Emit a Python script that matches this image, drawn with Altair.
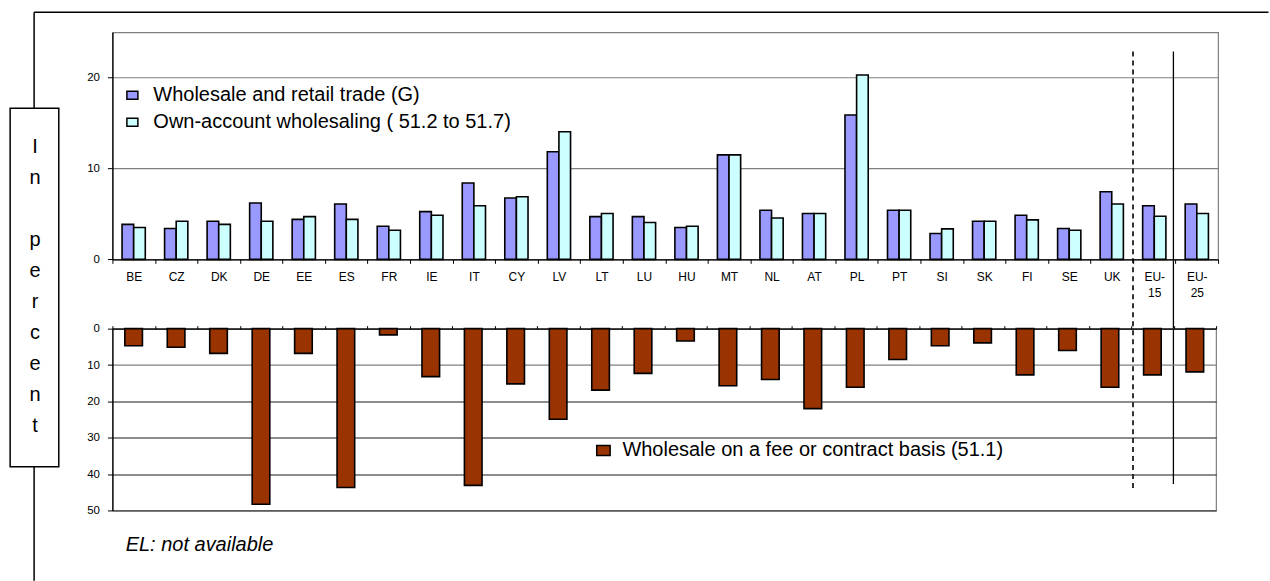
import altair as alt
import pandas as pd

# Countries and aggregates on the shared category axis
countries = ["BE", "CZ", "DK", "DE", "EE", "ES", "FR", "IE", "IT", "CY", "LV", "LT",
             "LU", "HU", "MT", "NL", "AT", "PL", "PT", "SI", "SK", "FI", "SE", "UK",
             "EU-15", "EU-25"]

# Upper panel series (percent)
series_top = ["Wholesale and retail trade (G)", "Own-account wholesaling ( 51.2 to 51.7)"]
trade_g = [3.85, 3.4, 4.2, 6.2, 4.4, 6.1, 3.65, 5.25, 8.4, 6.75, 11.85, 4.7,
           4.7, 3.5, 11.5, 5.4, 5.05, 15.9, 5.4, 2.85, 4.2, 4.85, 3.4, 7.45,
           5.9, 6.1]
own_account = [3.5, 4.2, 3.85, 4.2, 4.7, 4.4, 3.2, 4.85, 5.9, 6.9, 14.05, 5.05,
               4.05, 3.65, 11.5, 4.55, 5.05, 20.3, 5.4, 3.35, 4.2, 4.35, 3.2, 6.1,
               4.75, 5.05]

# Lower panel series (percent, drawn downwards)
series_bottom = ["Wholesale on a fee or contract basis (51.1)"]
fee_contract = [4.7, 5.1, 6.8, 48.3, 6.8, 43.7, 1.7, 13.2, 43.1, 15.2, 24.9, 16.9,
                12.3, 3.4, 15.7, 14.0, 22.0, 16.1, 8.5, 4.7, 3.9, 12.7, 6.0, 16.1,
                12.7, 11.9]

top_ticks = [0, 10, 20]
bottom_ticks = [0, 10, 20, 30, 40, 50]
# vertical side label, one character per line, in two words
side_word_1 = list("In")
side_word_2 = list("percent")
footnote = "EL: not available"

FONT = "Liberation Sans"
SIDE_LINE = 31

top_df = pd.DataFrame({
    "country": countries * 2,
    "series": [series_top[0]] * len(countries) + [series_top[1]] * len(countries),
    "value": trade_g + own_account,
})
bottom_df = pd.DataFrame({
    "country": countries,
    "series": series_bottom * len(countries),
    "value": fee_contract,
})
one_row = pd.DataFrame({"k": [0]})

x_scale = alt.Scale(domain=countries, paddingInner=0, paddingOuter=0)

top_x_axis = alt.Axis(
    title=None, labelAngle=0, tickBand="extent", domainColor="black", domainWidth=1.3,
    tickColor="black", tickSize=4, tickWidth=1, labelFontSize=12, labelPadding=8,
    labelColor="black", labelLineHeight=16, grid=False,
    labelExpr="datum.label == 'EU-15' ? ['EU-', '15'] : datum.label == 'EU-25' ? ['EU-', '25'] : datum.label",
)

top_x = alt.X("country:N", scale=x_scale, axis=top_x_axis)

rect_symbol = "M-1,-0.73H1V0.73H-1Z"

bars_top = alt.Chart(top_df).mark_bar(stroke="black", strokeWidth=1.6).encode(
    x=top_x,
    xOffset=alt.XOffset("series:N", sort=series_top,
                        scale=alt.Scale(domain=series_top, paddingInner=0, paddingOuter=0.83)),
    y=alt.Y("value:Q", scale=alt.Scale(domain=[0, 25], nice=False),
            axis=alt.Axis(title=None, values=top_ticks, grid=True, gridColor="#808080",
                          gridWidth=1.2, domainColor="black", domainWidth=1.3,
                          tickColor="black", tickSize=5, labelFontSize=11.5,
                          labelPadding=8, labelColor="black")),
    color=alt.Color("series:N", sort=series_top,
                    scale=alt.Scale(domain=series_top, range=["#9999FF", "#CCFFFF"]),
                    legend=alt.Legend(orient="none", legendX=10, legendY=53, title=None,
                                      direction="vertical", symbolType=rect_symbol,
                                      symbolSize=121, symbolStrokeColor="black",
                                      symbolStrokeWidth=1.5, labelFontSize=20,
                                      labelColor="black", labelOffset=11,
                                      labelLimit=700, rowPadding=7, padding=0)),
)

# Separators before the EU-15 and EU-25 aggregates
dashed_sep = alt.Chart(pd.DataFrame({"country": ["EU-15"]})).mark_rule(
    color="black", strokeWidth=1.6, strokeDash=[5, 4]
).encode(
    x=alt.X("country:N", bandPosition=0, scale=x_scale, axis=top_x_axis),
    y=alt.value(19.3), y2=alt.value(458.3),
)
solid_sep = alt.Chart(pd.DataFrame({"country": ["EU-15"]})).mark_rule(
    color="black", strokeWidth=1.3
).encode(
    x=alt.X("country:N", bandPosition=0.95, scale=x_scale, axis=top_x_axis),
    y=alt.value(19.3), y2=alt.value(452.3),
)

# Outer frame and the boxed side label
frame_top = alt.Chart(one_row).mark_rule(color="black", strokeWidth=1.5).encode(
    x=alt.value(-78.4), x2=alt.value(1157.5), y=alt.value(-20), y2=alt.value(-20))
frame_left_a = alt.Chart(one_row).mark_rule(color="black", strokeWidth=1.5).encode(
    x=alt.value(-78.4), x2=alt.value(-78.4), y=alt.value(-20), y2=alt.value(76))
frame_left_b = alt.Chart(one_row).mark_rule(color="black", strokeWidth=1.5).encode(
    x=alt.value(-78.4), x2=alt.value(-78.4), y=alt.value(435), y2=alt.value(549))
side_box = alt.Chart(one_row).mark_rect(fill="white", stroke="black", strokeWidth=1.5).encode(
    x=alt.value(-102.4), x2=alt.value(-53.7), y=alt.value(76), y2=alt.value(435))
side_text_1 = alt.Chart(one_row).mark_text(
    text=side_word_1, font=FONT, fontSize=20, color="black", align="center",
    baseline="alphabetic", lineHeight=SIDE_LINE
).encode(x=alt.value(-77.5), y=alt.value(121))
side_text_2 = alt.Chart(one_row).mark_text(
    text=side_word_2, font=FONT, fontSize=20, color="black", align="center",
    baseline="alphabetic", lineHeight=SIDE_LINE
).encode(x=alt.value(-77.5), y=alt.value(121 + 3 * SIDE_LINE))

top_chart = alt.layer(
    frame_top, frame_left_a, frame_left_b, side_box, side_text_1, side_text_2,
    bars_top, dashed_sep, solid_sep
).properties(width=1107, height=227.3)

bottom_x = alt.X("country:N", scale=x_scale,
                 axis=alt.Axis(title=None, orient="top", labels=False, tickBand="extent",
                               domainColor="black", domainWidth=1.3, tickColor="black",
                               tickSize=3, grid=False))

bars_bottom = alt.Chart(bottom_df).mark_bar(
    stroke="black", strokeWidth=1.6, width=alt.RelativeBandSize(0.415)
).encode(
    x=bottom_x,
    y=alt.Y("value:Q", scale=alt.Scale(domain=[0, 50], reverse=True, nice=False),
            axis=alt.Axis(title=None, values=bottom_ticks, grid=True,
                          gridColor={"condition": {"test": "datum.value <= 10", "value": "#808080"},
                                     "value": "#1a1a1a"},
                          gridWidth=1.1, domainColor="black", domainWidth=1.3,
                          tickColor="black", tickSize=5, labelFontSize=11.5,
                          labelPadding=8, labelColor="black")),
    color=alt.Color("series:N",
                    scale=alt.Scale(domain=series_bottom, range=["#993300"]),
                    legend=alt.Legend(orient="none", legendX=481.6, legendY=112, title=None,
                                      symbolType=rect_symbol, symbolSize=180,
                                      symbolStrokeColor="black", symbolStrokeWidth=1.5,
                                      labelFontSize=20, labelColor="black", labelOffset=9,
                                      labelLimit=700, padding=0)),
)

note = alt.Chart(one_row).mark_text(
    text=footnote, font=FONT, fontSize=20, fontStyle="italic", color="black",
    align="left", baseline="alphabetic"
).encode(x=alt.value(13.3), y=alt.value(222.6))

bottom_chart = alt.layer(bars_bottom, note).properties(width=1105, height=182)

chart = alt.vconcat(
    top_chart, bottom_chart, spacing=68.7, bounds="flush"
).resolve_scale(
    color="independent", x="independent"
).resolve_legend(
    color="independent"
).properties(
    padding={"left": 8.55, "top": 10, "right": 0, "bottom": 0}
).configure(
    font=FONT
).configure_view(
    stroke="#808080", strokeWidth=1.2
)

chart.save("out.html", embed_options={"renderer": "svg", "actions": False})
